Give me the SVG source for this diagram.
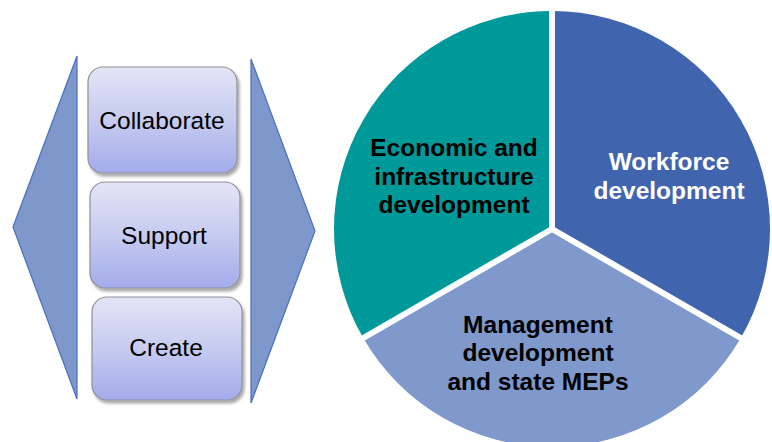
<svg xmlns="http://www.w3.org/2000/svg" width="772" height="442" viewBox="0 0 772 442">
  <defs>
    <linearGradient id="boxGrad" x1="0" y1="0" x2="0" y2="1">
      <stop offset="0" stop-color="#e3e5f6"/>
      <stop offset="0.5" stop-color="#c6cbf0"/>
      <stop offset="1" stop-color="#a3aceb"/>
    </linearGradient>
    <filter id="shadow" x="-10%" y="-10%" width="125%" height="125%">
      <feGaussianBlur in="SourceAlpha" stdDeviation="1.5"/>
      <feOffset dx="2" dy="3" result="o"/>
      <feComponentTransfer><feFuncA type="linear" slope="0.35"/></feComponentTransfer>
      <feMerge><feMergeNode/><feMergeNode in="SourceGraphic"/></feMerge>
    </filter>
  </defs>
  <style>
    .side { fill: #7e98cc; stroke: #4a6fc0; stroke-width: 1.2; }
    .box { fill: url(#boxGrad); stroke: #8f8f9a; stroke-width: 1.2; filter: url(#shadow); }
    .boxtxt { font-family: "Liberation Sans", Arial, sans-serif; font-size: 24.5px; fill: #000; text-anchor: middle; }
    .pietxt { font-family: "Liberation Sans", Arial, sans-serif; font-size: 24.5px; font-weight: bold; text-anchor: middle; }
    .gap { stroke: #fff; stroke-width: 6; stroke-linecap: butt; }
  </style>

  <g id="left-arrow">
    <polygon class="side" points="77,56 13,227 77,399"/>
  </g>
  <g id="right-arrow">
    <polygon class="side" points="251,59 315,231 251,403"/>
  </g>

  <g id="node-collaborate">
    <rect class="box" x="88" y="67" width="149" height="106" rx="15"/>
    <text class="boxtxt" x="162" y="129">Collaborate</text>
  </g>
  <g id="node-support">
    <rect class="box" x="90" y="182" width="150" height="106" rx="15"/>
    <text class="boxtxt" x="164" y="244">Support</text>
  </g>
  <g id="node-create">
    <rect class="box" x="92" y="297" width="150" height="103" rx="15"/>
    <text class="boxtxt" x="166" y="356">Create</text>
  </g>

  <g id="pie-workforce">
    <path d="M552,229 L552,11 A218,218 0 0 1 740.8,338 Z" fill="#4164ae"/>
    <text class="pietxt" fill="#fff" x="669" y="170">Workforce</text>
    <text class="pietxt" fill="#fff" x="669" y="199">development</text>
  </g>
  <g id="pie-management">
    <path d="M552,229 L740.8,338 A218,218 0 0 1 363.2,338 Z" fill="#7f99cc"/>
    <text class="pietxt" fill="#000" x="538" y="333">Management</text>
    <text class="pietxt" fill="#000" x="538" y="361">development</text>
    <text class="pietxt" fill="#000" x="538" y="390">and state MEPs</text>
  </g>
  <g id="pie-economic">
    <path d="M552,229 L363.2,338 A218,218 0 0 1 552,11 Z" fill="#00999a"/>
    <text class="pietxt" fill="#000" x="454" y="156">Economic and</text>
    <text class="pietxt" fill="#000" x="454" y="185">infrastructure</text>
    <text class="pietxt" fill="#000" x="454" y="213">development</text>
  </g>

  <g id="connectors">
    <line class="gap" x1="552" y1="229" x2="552" y2="5"/>
    <line class="gap" x1="552" y1="229" x2="746" y2="341"/>
    <line class="gap" x1="552" y1="229" x2="358" y2="341"/>
  </g>
</svg>
